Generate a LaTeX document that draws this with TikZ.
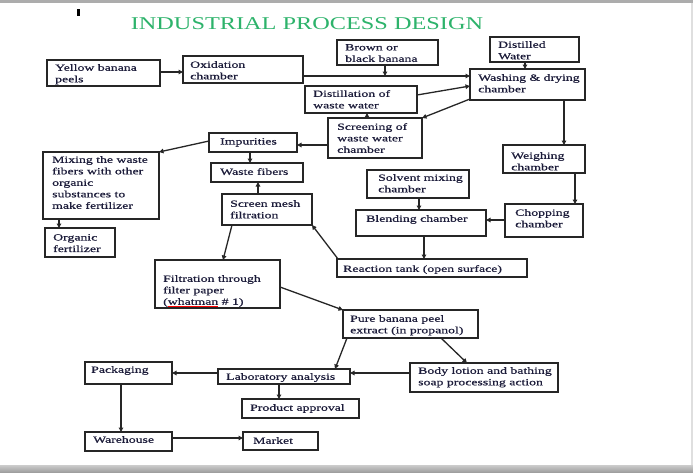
\documentclass[tikz,border=0pt]{standalone}
\usepackage{fontspec}
\setmainfont{Liberation Serif}[FakeStretch=1.45,FakeBold=0.6]
\newfontfamily\titlefont{Liberation Serif}[FakeStretch=1.35]
\usetikzlibrary{arrows.meta}
\definecolor{titlegreen}{HTML}{2DB36B}
\definecolor{txtc}{HTML}{1C1C3A}
\newcommand{\bx}[5]{\node[box, minimum width={#4-#2}, minimum height={#5-#3}] (#1) at (#2,#3) {};}
\newcommand{\tx}[4]{\node[txt] (#1) at (#2,{#3+2}) {#4};}
\begin{document}
\begin{tikzpicture}[x=1pt,y=-1pt,
  box/.style={draw=black!85, line width=1.6pt, anchor=north west, inner sep=0pt, outer sep=0pt},
  txt/.style={anchor=north west, inner sep=0pt, align=left, font=\fontsize{9.5}{11.5}\selectfont, text=txtc},
  arr/.style={line width=1.3pt, draw=black!85, -{Triangle[length=4.5pt,width=4.5pt]}}]
\useasboundingbox (0,0) rectangle (693,472);
% background frame
\fill[white] (0,0) rectangle (693,472);
\fill[gray!65] (0,0) rectangle (693,3);
\shade[top color=gray!40, bottom color=gray!75] (0,465) rectangle (693,472);
\fill[gray!25] (691,3) rectangle (693,465);
\fill[black] (77,9) rectangle (80,16);
% title
\node[font=\titlefont\fontsize{18}{20}\selectfont, text=titlegreen, inner sep=0pt] (title) at (307,24) {INDUSTRIAL PROCESS DESIGN};
% boxes
\bx{yel}{47}{60}{160}{86}
\bx{oxi}{183}{56}{303}{83}
\bx{brown}{337}{40}{438}{65}
\bx{dw}{490}{37}{579}{62}
\bx{wash}{470}{69}{585}{100}
\bx{dis}{305}{86}{417}{113}
\bx{scr}{328}{118}{422}{158}
\bx{imp}{209}{133}{297}{152}
\bx{wf}{211}{163}{303}{182}
\bx{mix}{43}{152}{159}{219}
\bx{org}{45}{228}{115}{257}
\bx{sm}{222}{194}{312}{225}
\bx{wei}{503}{145}{585}{173}
\bx{sol}{367}{170}{469}{198}
\bx{ble}{356}{210}{486}{236}
\bx{cho}{505}{204}{583}{237}
\bx{rea}{337}{259}{527}{277}
\bx{fil}{155}{260}{280}{308}
\bx{pure}{343}{310}{478}{338}
\bx{pack}{85}{362}{172}{384}
\bx{lab}{218}{369}{350}{384}
\bx{body}{410}{363}{558}{392}
\bx{prod}{242}{399}{359}{418}
\bx{ware}{85}{432}{172}{451}
\bx{mkt}{243}{432}{318}{450}
% texts
\tx{yel-t}{55}{62}{Yellow banana\\peels}
\tx{oxi-t}{190}{59}{Oxidation\\chamber}
\tx{brown-t}{345}{42}{Brown or\\black banana}
\tx{dw-t}{498}{39}{Distilled\\Water}
\tx{wash-t}{478}{72}{Washing \& drying\\chamber}
\tx{dis-t}{313}{88}{Distillation of\\waste water}
\tx{scr-t}{337}{121}{Screening of\\waste water\\chamber}
\tx{imp-t}{220}{136}{Impurities}
\tx{wf-t}{220}{166}{Waste fibers}
\tx{mix-t}{52}{154}{Mixing the waste\\fibers with other\\organic\\substances to\\make fertilizer}
\tx{org-t}{53}{232}{Organic\\fertilizer}
\tx{sm-t}{230}{198}{Screen mesh\\filtration}
\tx{wei-t}{511}{150}{Weighing\\chamber}
\tx{sol-t}{378}{172}{Solvent mixing\\chamber}
\tx{ble-t}{366}{213}{Blending chamber}
\tx{cho-t}{515}{207}{Chopping\\chamber}
\tx{rea-t}{343}{263}{Reaction tank (open surface)}
\tx{fil-t}{163}{273}{Filtration through\\filter paper\\(\textcolor{red}{\underline{\textcolor{txtc}{whatman}}} \# 1)}
\tx{pure-t}{350}{313}{Pure banana peel\\extract (in propanol)}
\tx{pack-t}{91}{364}{Packaging}
\tx{lab-t}{226}{371}{Laboratory analysis}
\tx{body-t}{418}{365}{Body lotion and bathing\\soap processing action}
\tx{prod-t}{250}{402}{Product approval}
\tx{ware-t}{93}{434}{Warehouse}
\tx{mkt-t}{253}{435}{Market}
% connectors
\coordinate (j1) at (385,76);
\draw[arr] (yel.east |- 0,72) -- (oxi.west |- 0,72);
\draw[arr] (oxi.east |- 0,76) -- (wash.west |- 0,76);
\draw[arr] (brown.south -| j1) -- (j1);
\draw[arr] (dw.south -| 525,0) -- (wash.north -| 525,0);
\draw[arr] (dis.east |- 0,95) -- (wash.west |- 0,86);
\draw[arr] (wash.west |- 0,99) -- (scr.north east);
\draw[arr] (scr.north -| 367,0) -- (dis.south -| 367,0);
\draw[arr] (scr.west |- 0,145) -- (imp.east |- 0,145);
\draw[arr] (imp.west |- 0,141) -- (mix.north east);
\draw[arr] (imp.south -| 250,0) -- (wf.north -| 250,0);
\draw[arr] (mix.south -| 59,0) -- (org.north -| 59,0);
\draw[arr] (sm.north -| 258,0) -- (wf.south -| 258,0);
\draw[arr] (sm.south -| 232,0) -- (fil.north -| 223,0);
\draw[arr] ([xshift=1pt]rea.north west) -- (sm.south east);
\draw[arr] (wash.south -| 564,0) -- (wei.north -| 564,0);
\draw[arr] (wei.south -| 575,0) -- (cho.north -| 575,0);
\draw[arr] (cho.west |- 0,220) -- (ble.east |- 0,220);
\draw[arr] (sol.south -| 419,0) -- (ble.north -| 419,0);
\draw[arr] (ble.south -| 424,0) -- (rea.north -| 424,0);
\draw[arr] (fil.east |- 0,287) -- (pure.north west);
\draw[arr] (pure.south -| 347,0) -- (lab.north -| 335,0);
\draw[arr] (pure.south -| 441,0) -- (body.north -| 467,0);
\draw[arr] (body.west |- 0,373) -- (lab.east |- 0,373);
\draw[arr] (lab.west |- 0,373) -- (pack.east |- 0,373);
\draw[arr] (lab.south -| 279,0) -- (prod.north -| 279,0);
\draw[arr] (pack.south -| 121,0) -- (ware.north -| 121,0);
\draw[arr] (ware.east |- 0,438) -- (mkt.west |- 0,438);
\end{tikzpicture}
\end{document}
